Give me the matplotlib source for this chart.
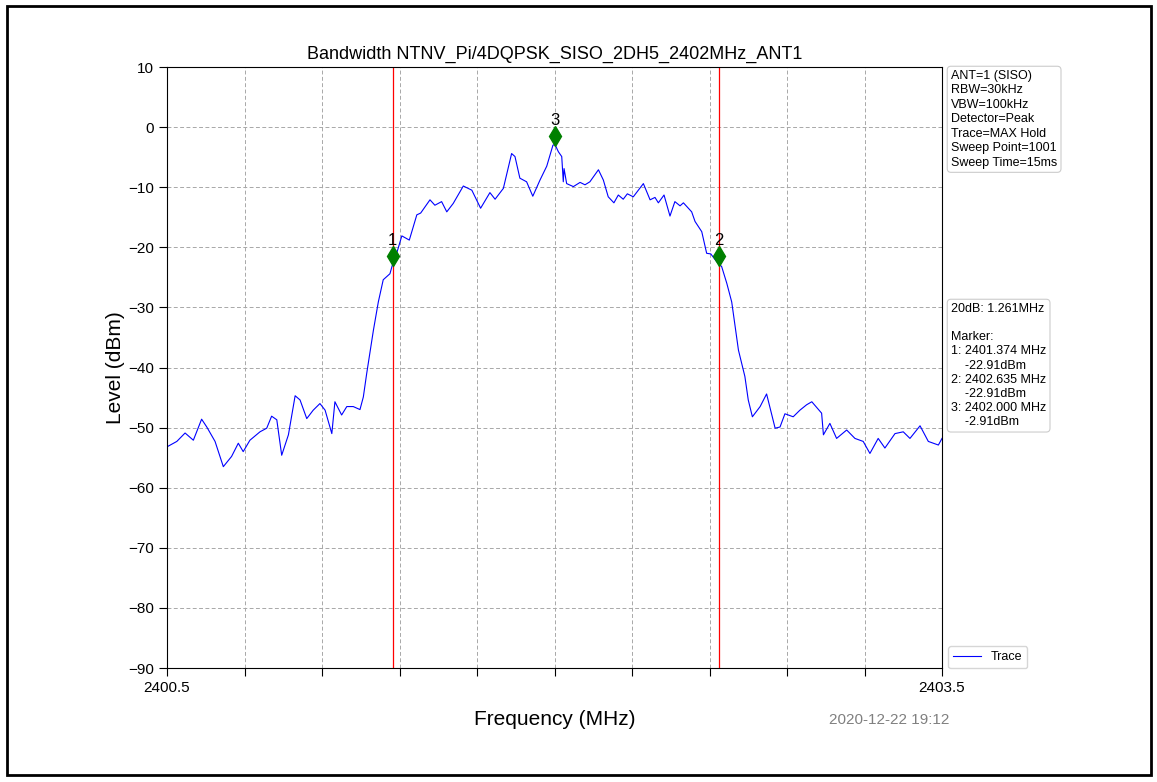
import matplotlib
matplotlib.use("Agg")
import matplotlib.pyplot as plt
from matplotlib.patches import Rectangle
import numpy as np

plt.rcParams['font.family'] = ['Liberation Sans', 'DejaVu Sans']

title = "Bandwidth NTNV_Pi/4DQPSK_SISO_2DH5_2402MHz_ANT1"

freq = [2400.500, 2400.538, 2400.570, 2400.602, 2400.634, 2400.654, 2400.686, 2400.718,
        2400.750, 2400.776, 2400.795, 2400.821, 2400.860, 2400.886, 2400.905, 2400.925,
        2400.944, 2400.970, 2400.996, 2401.015, 2401.041, 2401.066, 2401.092, 2401.112,
        2401.138, 2401.150, 2401.176, 2401.196, 2401.221, 2401.247, 2401.260, 2401.273,
        2401.299, 2401.318, 2401.337, 2401.363, 2401.376, 2401.389, 2401.409, 2401.438,
        2401.467, 2401.482, 2401.518, 2401.537, 2401.563, 2401.583, 2401.608, 2401.647,
        2401.680, 2401.714, 2401.750, 2401.770, 2401.802, 2401.834, 2401.847, 2401.866,
        2401.892, 2401.916, 2401.944, 2401.970, 2401.994, 2402.002, 2402.015, 2402.028,
        2402.034, 2402.037, 2402.047, 2402.073, 2402.099, 2402.118, 2402.137, 2402.170,
        2402.189, 2402.208, 2402.230, 2402.247, 2402.266, 2402.282, 2402.305, 2402.344,
        2402.370, 2402.389, 2402.402, 2402.424, 2402.447, 2402.466, 2402.486, 2402.499,
        2402.531, 2402.544, 2402.570, 2402.589, 2402.605, 2402.628, 2402.647, 2402.667,
        2402.686, 2402.712, 2402.737, 2402.750, 2402.766, 2402.796, 2402.821, 2402.854,
        2402.873, 2402.892, 2402.924, 2402.950, 2402.976, 2402.996, 2403.034, 2403.041,
        2403.066, 2403.092, 2403.131, 2403.163, 2403.195, 2403.221, 2403.253, 2403.279,
        2403.318, 2403.350, 2403.376, 2403.415, 2403.447, 2403.486, 2403.500]

level = [-53.2, -52.3, -50.9, -52.1, -48.6, -49.9, -52.3, -56.5,
         -54.8, -52.6, -54.0, -52.1, -50.7, -50.1, -48.1, -48.7,
         -54.6, -51.2, -44.7, -45.4, -48.5, -47.1, -46.0, -47.1,
         -51.0, -45.7, -47.9, -46.5, -46.5, -47.0, -44.9, -41.0,
         -33.8, -29.1, -25.4, -24.4, -22.4, -21.0, -18.1, -18.8,
         -14.6, -14.3, -12.1, -13.0, -12.4, -14.1, -12.7, -9.8,
         -10.5, -13.5, -10.9, -12.0, -10.2, -4.4, -4.9, -8.5,
         -9.1, -11.5, -8.8, -6.5, -3.0, -2.9, -4.1, -4.9,
         -9.1, -6.9, -9.4, -9.9, -9.2, -9.6, -9.1, -7.1,
         -8.8, -11.6, -12.6, -11.3, -12.0, -11.1, -11.6, -9.4,
         -12.1, -11.7, -12.6, -11.3, -14.8, -12.4, -13.1, -12.6,
         -14.1, -15.7, -17.4, -21.0, -21.1, -22.4, -23.2, -26.0,
         -29.1, -37.1, -41.5, -45.4, -48.2, -46.5, -44.4, -50.1,
         -49.9, -47.7, -48.2, -47.1, -46.2, -45.7, -47.6, -51.2,
         -49.3, -51.8, -50.4, -51.8, -52.3, -54.3, -51.8, -53.4,
         -51.0, -50.7, -51.8, -49.7, -52.3, -52.9, -51.8]

marker_labels = ["1", "2", "3"]
marker_freq = [2401.374, 2402.635, 2402.000]
marker_plot_level = [-21.4, -21.4, -1.4]
marker_level_text = ["-22.91dBm", "-22.91dBm", "-2.91dBm"]

settings = ["ANT=1 (SISO)", "RBW=30kHz", "VBW=100kHz", "Detector=Peak",
            "Trace=MAX Hold", "Sweep Point=1001", "Sweep Time=15ms"]
obw_text = "20dB: 1.261MHz"
timestamp = "2020-12-22 19:12"

W, H = 1157, 782
fig = plt.figure(figsize=(W / 100, H / 100), dpi=100)
ax = fig.add_axes([167 / W, 1 - 668 / H, (942 - 167) / W, (668 - 67) / H])

ax.plot(freq, level, color='blue', lw=0.8, label='Trace')
for f in marker_freq[:2]:
    ax.axvline(f, color='red', lw=0.9)
ax.plot(marker_freq, marker_plot_level, linestyle='none', marker='d',
        color='green', markersize=10, markeredgecolor='green')
for lab, f, l in zip(marker_labels, marker_freq, marker_plot_level):
    ax.text(f, l + 1.3, lab, ha='center', va='bottom', fontsize=12)

ax.set_xlim(2400.5, 2403.5)
ax.set_ylim(-90, 10)
xt = np.linspace(2400.5, 2403.5, 11)
ax.set_xticks(xt)
ax.set_xticklabels(["2400.5"] + [""] * 9 + ["2403.5"])
ax.set_yticks(np.arange(-90, 11, 10))
ax.tick_params(labelsize=11, length=6)
ax.grid(True, linestyle=(0, (4, 2.5)), color='#a8a8a8', lw=0.7)
ax.set_title(title, fontsize=13, pad=6)
ax.set_xlabel("Frequency (MHz)", fontsize=15, labelpad=11)
ax.set_ylabel("Level (dBm)", fontsize=15, labelpad=2)

box = dict(boxstyle='round,pad=0.3', facecolor='white', edgecolor='#cccccc', lw=0.8)
fig.text(951 / W, 1 - 70 / H, "\n".join(settings), fontsize=9, va='top', ha='left',
         linespacing=1.27, bbox=box)
mk_lines = [obw_text, "", "Marker:"]
for lab, f, t in zip(marker_labels, marker_freq, marker_level_text):
    mk_lines.append(f"{lab}: {f:.3f} MHz")
    mk_lines.append(f"    {t}")
fig.text(951 / W, 1 - 303 / H, "\n".join(mk_lines), fontsize=9, va='top', ha='left',
         linespacing=1.24, bbox=box)

ax.legend(loc='lower left', bbox_to_anchor=(1.008, 0.0), fontsize=9, frameon=True,
          borderaxespad=0, handlelength=2.2, fancybox=True, edgecolor='#cccccc')

fig.text(889 / W, 1 - 720 / H, timestamp, fontsize=11, color='gray', ha='center', va='center')

fig.patches.append(Rectangle((7 / W, 7 / H), (W - 13) / W, (H - 13) / H,
                             transform=fig.transFigure, fill=False, edgecolor='black', lw=2))

fig.savefig("out.png", dpi=100)
